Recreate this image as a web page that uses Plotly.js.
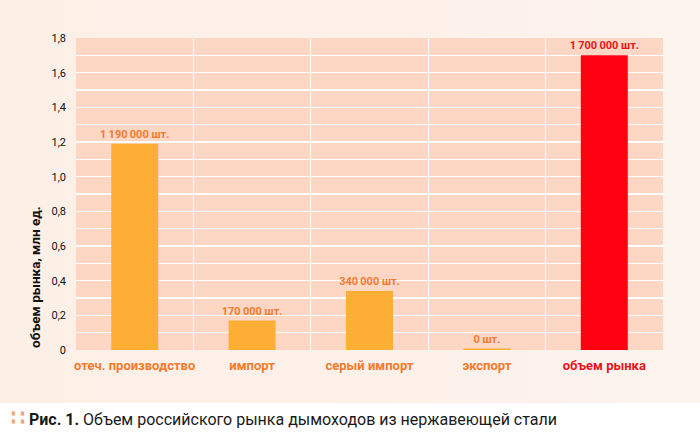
<!DOCTYPE html>
<html>
<head>
<meta charset="utf-8">
<script src="https://cdn.plot.ly/plotly-3.0.1.min.js"></script>
<style>
  html, body { margin: 0; padding: 0; background: #ffffff; }
  #wrap { position: relative; width: 700px; height: 433px; }
  #bg { position: absolute; left: 0; top: 0; width: 700px; height: 403px;
        background: linear-gradient(to right, #fcefe6 0%, #fdf1ea 60%, #fdf4ee 100%); }
  #chart { position: absolute; left: 0; top: 0; width: 700px; height: 433px; }
</style>
</head>
<body>
<div id="wrap">
  <div id="bg"></div>
  <div id="chart"></div>
</div>
<script>
// --- data ---
var categories = ["отеч. производство", "импорт", "серый импорт", "экспорт", "объем рынка"];
var values = [1.19, 0.17, 0.34, 0.008, 1.70];
var valueLabels = ["1\u2009190\u2009000 шт.", "170\u2009000 шт.", "340\u2009000 шт.", "0 шт.", "1\u2009700\u2009000 шт."];
var yTickVals = [0, 0.2, 0.4, 0.6, 0.8, 1.0, 1.2, 1.4, 1.6, 1.8];
var yTickText = ["0", "0,2", "0,4", "0,6", "0,8", "1,0", "1,2", "1,4", "1,6", "1,8"];
var yTitle = "объем рынка, млн ед.";
var caption = "Объем российского рынка дымоходов из нержавеющей стали";

// --- styles ---
var ORANGE = "#fdae35";
var RED = "#fe0010";
var LABEL_ORANGE = "#f47a2e";
var LABEL_RED = "#e8141c";
var barColors = [ORANGE, ORANGE, ORANGE, ORANGE, RED];
var labelColors = [LABEL_ORANGE, LABEL_ORANGE, LABEL_ORANGE, LABEL_ORANGE, LABEL_RED];
var FONT = "Roboto, 'Liberation Sans', sans-serif";

var tickText = categories.map(function (c, i) {
  return '<span style="color:' + labelColors[i] + '"><b>' + c + '</b></span>';
});

var trace = {
  type: "bar",
  x: categories,
  y: values,
  text: valueLabels,
  textposition: "outside",
  constraintext: "none",
  cliponaxis: false,
  textfont: { family: FONT, size: 11, color: labelColors },
  texttemplate: "<b>%{text}</b>",
  marker: { color: barColors, line: { width: 0 } },
  hoverinfo: "none"
};

var layout = {
  width: 700,
  height: 433,
  margin: { l: 76, r: 37, t: 38, b: 83 },
  paper_bgcolor: "rgba(0,0,0,0)",
  plot_bgcolor: "#fdd6c4",
  bargap: 0.6,
  showlegend: false,
  font: { family: FONT, color: "#111111" },
  xaxis: {
    type: "category",
    tickvals: categories,
    ticktext: tickText,
    tickangle: 0,
    tickson: "boundaries",
    showgrid: true,
    gridcolor: "#ffffff",
    gridwidth: 1.2,
    ticks: "",
    ticklabelstandoff: 6,
    tickfont: { family: FONT, size: 13 },
    showline: false,
    zeroline: false,
    fixedrange: true
  },
  yaxis: {
    range: [0, 1.8],
    tickvals: yTickVals,
    ticktext: yTickText,
    tickfont: { family: FONT, size: 11, color: "#111111" },
    showgrid: true,
    gridcolor: "#ffffff",
    gridwidth: 1.2,
    minor: { dtick: 0.1, showgrid: true, gridcolor: "#ffffff", gridwidth: 1.2 },
    zeroline: false,
    ticks: "",
    ticklen: 0,
    ticklabelstandoff: 9,
    fixedrange: true
  },
  annotations: [
    {
      xref: "paper", yref: "paper",
      x: -0.07, y: 0,
      xanchor: "center", yanchor: "bottom",
      textangle: -90,
      showarrow: false,
      text: "<b>" + yTitle + "</b>",
      font: { family: FONT, size: 13.5, color: "#111111" }
    },
    {
      xref: "paper", yref: "paper",
      x: -0.114, y: -0.215,
      xanchor: "left", yanchor: "middle",
      showarrow: false,
      text: '<span style="color:#f4a070;font-size:22px"><b>∷</b></span> <b>Рис. 1.</b> ' + caption,
      font: { family: FONT, size: 16, color: "#1a1a1a" }
    }
  ]
};

Plotly.newPlot("chart", [trace], layout, { displayModeBar: false, staticPlot: true });
</script>
</body>
</html>
